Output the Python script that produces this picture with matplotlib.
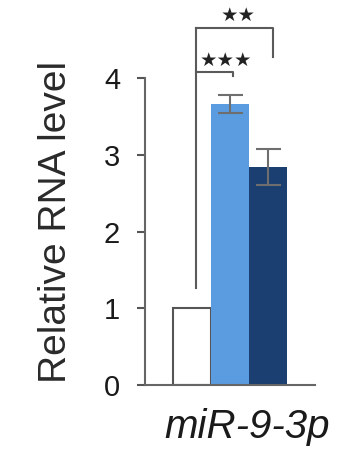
import matplotlib
matplotlib.use("Agg")
import matplotlib.pyplot as plt

# data
groups = ["ctrl", "A", "B"]
means = [1.0, 3.66, 2.84]
errs = [0.0, 0.12, 0.23]
colors = ["white", "#5b9be0", "#1b3f70"]

# significance brackets: (left bar x, right bar x, height, drop to, stars, star x, star y)
brackets = [
    (0.105, 1.08, 4.08, 4.03, "★★★", 0.90, 4.23),
    (0.105, 2.13, 4.65, 4.27, "★★", 1.21, 4.82),
]
bracket_bottom = 1.26

plt.rcParams["font.family"] = ["Liberation Sans", "DejaVu Sans"]

fig = plt.figure(figsize=(3.4, 4.5), dpi=100)
ax = fig.add_axes([0.4265, 0.1444, 0.5, 0.6822])

xs = list(range(len(groups)))
ax.bar(xs, means, width=1.0, color=colors,
       edgecolor=["#555555", "none", "none"], linewidth=1.5)
for x, m, e in zip(xs, means, errs):
    if e > 0:
        ax.errorbar(x, m, yerr=e, fmt="none", ecolor="#6e6e6e",
                    elinewidth=1.5, capsize=9, capthick=1.5)

gray = "#5a5a5a"
top = max(b[2] for b in brackets)
ax.plot([0.105, 0.105], [bracket_bottom, top], color=gray, lw=1.5, clip_on=False)
for x0, x1, h, drop, stars, sx, sy in brackets:
    ax.plot([x0, x1, x1], [h, h, drop], color=gray, lw=1.5, clip_on=False)
    ax.text(sx, sy, stars, ha="center", va="center", fontsize=14,
            family="DejaVu Sans", color="#222222")

ax.set_xlim(-1.24, 3.24)
ax.set_ylim(0, 4)
ax.set_yticks([0, 1, 2, 3, 4])
ax.set_xticks([])
ax.tick_params(axis="y", direction="out", length=6, width=1.5,
               colors="#555555", labelcolor="#1a1a1a", labelsize=21, pad=12)

for s in ["top", "right"]:
    ax.spines[s].set_visible(False)
for s in ["left", "bottom"]:
    ax.spines[s].set_color("#666666")
    ax.spines[s].set_linewidth(1.5)

ax.set_ylabel("Relative RNA level", fontsize=28, color="#2a2a2a")
ax.yaxis.set_label_coords(-0.42, 0.53)
ax.set_xlabel("miR-9-3p", fontsize=29, style="italic", color="#1a1a1a")
ax.xaxis.set_label_coords(0.6, -0.075)

fig.savefig("out.png", dpi=100)
